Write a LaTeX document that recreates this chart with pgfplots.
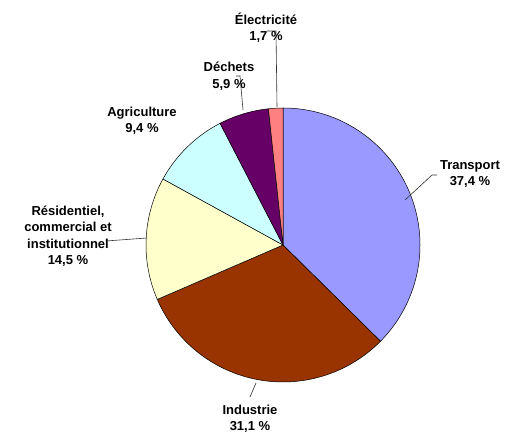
\documentclass[border=0pt]{standalone}
\usepackage{pgfplots}
\usepackage{pgfplotstable}
\pgfplotsset{compat=1.18}
\usepackage{fontspec}
\setmainfont{Liberation Sans}

\definecolor{cTransport}{HTML}{9999FF}
\definecolor{cIndustrie}{HTML}{993300}
\definecolor{cResid}{HTML}{FFFFCC}
\definecolor{cAgri}{HTML}{CCFFFF}
\definecolor{cDechets}{HTML}{660066}
\definecolor{cElec}{HTML}{FF8080}

% parts of the pie, clockwise from 12 o'clock
\pgfplotstableread{
sector      value color
Transport   37.4  cTransport
Industrie   31.1  cIndustrie
Residentiel 14.5  cResid
Agriculture 9.4   cAgri
Dechets     5.9   cDechets
Electricite 1.7   cElec
}\sectors

\newcommand{\pct}[1]{%
  \pgfplotstablegetelem{#1}{value}\of\sectors
  \pgfmathprintnumber[fixed,fixed zerofill,precision=1,use comma,assume math mode=true]{\pgfplotsretval}~\%}

\tikzset{lbl/.style={font=\bfseries\fontsize{13}{16.5}\selectfont, align=center, text=black, inner sep=0pt}}

\begin{document}
\begin{tikzpicture}
\begin{axis}[
  scale only axis, width=506pt, height=436pt,
  xmin=0, xmax=506, ymin=0, ymax=436,
  hide axis, clip=false,
]
% keep the whole frame as the picture's size
\path (axis cs:0,0) rectangle (axis cs:506,436);

\pgfplotstablegetrowsof{\sectors}
\pgfmathtruncatemacro\nrows{\pgfplotsretval-1}
\def\startangle{90}
\pgfplotsforeachungrouped \i in {0,...,\nrows}{%
  \pgfplotstablegetelem{\i}{value}\of\sectors \let\val\pgfplotsretval
  \pgfplotstablegetelem{\i}{color}\of\sectors \let\col\pgfplotsretval
  \pgfmathsetmacro\endangle{\startangle-3.6*\val}
  \edef\temp{\noexpand\filldraw[fill=\col, draw=black, line width=0.5pt]
    (axis cs:283,191) -- ++(\startangle:137pt)
    arc[start angle=\startangle, end angle=\endangle, radius=137pt] -- cycle;}
  \temp
  \let\startangle\endangle
}

% leader lines
\draw[black!80, line width=0.6pt] (axis cs:405,236) -- (axis cs:432,261) -- (axis cs:437,261);
\draw[black!80, line width=0.6pt] (axis cs:250,39) -- (axis cs:256,53);
\draw[black!80, line width=0.6pt] (axis cs:106,195) -- (axis cs:147,198);
\draw[black!80, line width=0.6pt] (axis cs:236,360) -- (axis cs:240,360) -- (axis cs:243,326);
\draw[black!80, line width=0.6pt] (axis cs:267,405) -- (axis cs:276,405) -- (axis cs:277,329);

% labels
\node[lbl] at (axis cs:470,262) {Transport\\\pct{0}};
\node[lbl] at (axis cs:250,17) {Industrie\\\pct{1}};
\node[lbl] at (axis cs:68,200) {Résidentiel,\\commercial et\\institutionnel\\\pct{2}};
\node[lbl] at (axis cs:142,315) {Agriculture\\\pct{3}};
\node[lbl] at (axis cs:229,360) {Déchets\\\pct{4}};
\node[lbl] at (axis cs:266,408) {Électricité\\\pct{5}};
\end{axis}
\end{tikzpicture}
\end{document}
